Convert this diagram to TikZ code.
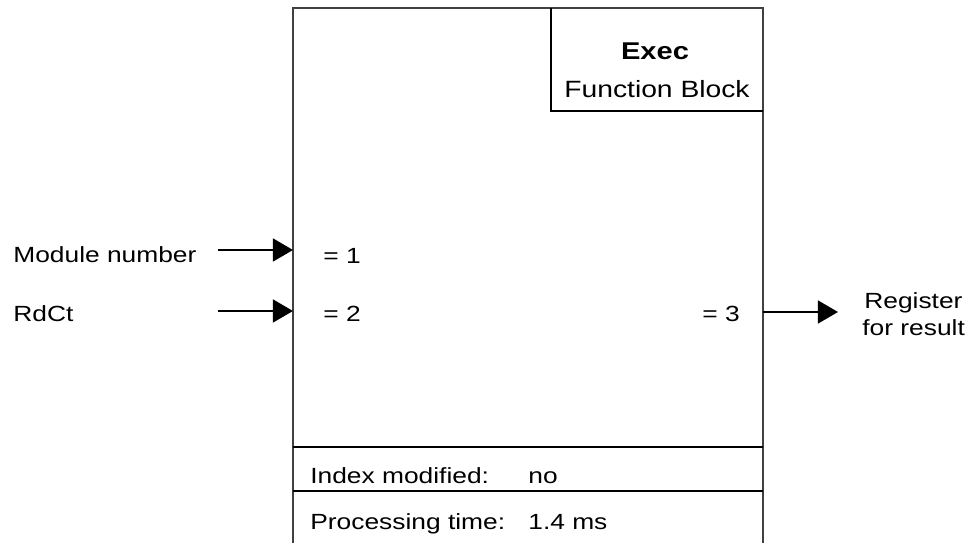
\documentclass[tikz,border=0pt]{standalone}
\usepackage{fontspec}
\setmainfont{Liberation Sans}[FakeStretch=1.2]
\usetikzlibrary{arrows.meta}

\begin{document}
\begin{tikzpicture}[x=0.02cm,y=-0.02cm,
    lbl/.style={anchor=base west,inner sep=0pt,font=\fontsize{12.5}{15}\selectfont},
    rule/.style={line width=1.1pt},
    frame/.style={line width=.9pt,draw=black!75},
    sig/.style={line width=1.1pt,-{Triangle[length=11.4pt,width=13pt]}}]
  \useasboundingbox (0,0) rectangle (971,543);

  % block outline, open at the bottom
  \draw[frame] (293,543) -- (293,8) -- (763,8) -- (763,543);
  \draw[rule] (551,8) -- (551,111) -- (763,111);
  \node[anchor=base,inner sep=0pt,font=\bfseries\fontsize{13.8}{16}\selectfont] (title) at (655,60) {Exec};
  \node[anchor=base,inner sep=0pt,font=\fontsize{13.4}{16}\selectfont] (kind) at (657,98) {Function Block};

  % inputs and output
  \node[lbl] (modnum) at (13,263) {Module number};
  \node[lbl] (rdct) at (13,322) {RdCt};
  \node[lbl] (par1) at (323,264) {= 1};
  \node[lbl] (par2) at (323,322) {= 2};
  \node[lbl] (par3) at (702,322) {= 3};
  \node[lbl] (regA) at (864,309) {Register};
  \node[lbl] (regB) at (862,336) {for result};

  \coordinate (in1s) at (218,250);
  \coordinate (in1) at (293,250);
  \coordinate (in2s) at (218,311);
  \coordinate (in2) at (293,311);
  \coordinate (out3) at (763,312);
  \coordinate (out3e) at (838,312);
  \draw[sig] (in1s) -- (in1);
  \draw[sig] (in2s) -- (in2);
  \draw[sig] (out3) -- (out3e);

  % footer rows
  \draw[rule] (293,447) -- (763,447);
  \draw[rule] (293,491) -- (763,491);
  \node[lbl] (idxlbl) at (310,484) {Index modified:};
  \node[lbl] (idxval) at (528,484) {no};
  \node[lbl] (timelbl) at (310,530) {Processing time:};
  \node[lbl] (timeval) at (528,530) {1.4 ms};
\end{tikzpicture}
\end{document}
